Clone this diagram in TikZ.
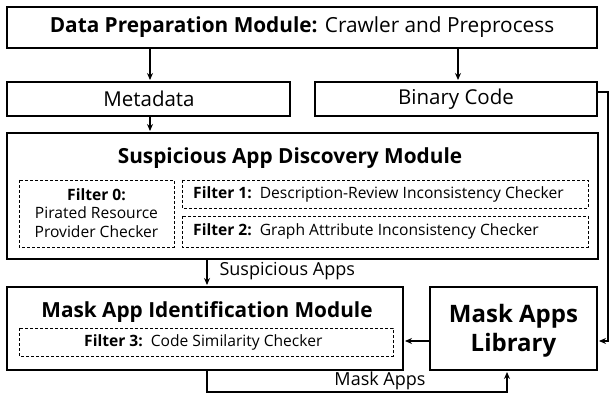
\documentclass[tikz,border=0pt]{standalone}
\usepackage{fontspec}
\setmainfont{Open Sans}
\usetikzlibrary{arrows.meta}
\begin{document}
\begin{tikzpicture}[x=1pt,y=-1pt,
  solidbox/.style={draw,line width=1.8pt},
  dashbox/.style={draw,dashed,line width=0.7pt,dash pattern=on 3pt off 2pt},
  conn/.style={line width=1.4pt,-{Stealth[length=7pt,width=6pt]}},
  big/.style={font=\fontsize{20.8}{23}\selectfont},
  mid/.style={font=\fontsize{20.5}{23}\selectfont},
  small/.style={font=\fontsize{15.6}{18.5}\selectfont},
  lbl/.style={font=\fontsize{18}{20}\selectfont},
  libf/.style={font=\fontsize{24}{29}\selectfont}]
\useasboundingbox (0,0) rectangle (611,398);
% boxes
\draw[solidbox] (7,7) rectangle (597,48);
\node[big] (dp) at (302,27.5) {\textbf{Data Preparation Module:} Crawler and Preprocess};
\draw[solidbox] (7,82) rectangle (290,116);
\node[mid] (meta) at (149,99) {Metadata};
\draw[solidbox] (315,82) rectangle (597,116);
\node[mid] (bin) at (456,99) {Binary Code};
\draw[solidbox] (7,133) rectangle (598,259);
\node[big] (sad) at (290,158) {\textbf{Suspicious App Discovery Module}};
\draw[dashbox] (19,180) rectangle (174,247);
\node[small,align=center] (f0) at (96.5,213) {\textbf{Filter 0:}\\Pirated Resource\\Provider Checker};
\draw[dashbox] (182,180) rectangle (588,208);
\node[small,anchor=west,inner sep=0pt] (f1) at (193,194) {\textbf{Filter 1:}\ \ Description-Review Inconsistency Checker};
\draw[dashbox] (182,216) rectangle (588,247);
\node[small,anchor=west,inner sep=0pt] (f2) at (193,231.5) {\textbf{Filter 2:}\ \ Graph Attribute Inconsistency Checker};
\draw[solidbox] (7,287) rectangle (403,370);
\node[big] (mai) at (207,312) {\textbf{Mask App Identification Module}};
\draw[dashbox] (19,328) rectangle (393,356);
\node[small,anchor=west,inner sep=0pt] (f3) at (84,342) {\textbf{Filter 3:}\ \ Code Similarity Checker};
\draw[solidbox] (430,287) rectangle (597,370);
\node[libf,align=center] (lib) at (513.5,331) {\textbf{Mask Apps}\\\textbf{Library}};
% connectors
\draw[conn] (150,49) -- (150,80);
\draw[conn] (458,49) -- (458,80);
\draw[conn] (150,117) -- (150,131);
\draw[conn] (207,260) -- (207,285);
\node[lbl,anchor=west] (sa) at (216,271) {Suspicious Apps};
\draw[conn] (429,341) -- (405,341);
\draw[conn] (598,92) -- (608,92) -- (608,341) -- (599,341);
\draw[conn] (207,371) -- (207,392) -- (507,392) -- (507,372);
\node[lbl] (ma) at (380,381) {Mask Apps};
\end{tikzpicture}
\end{document}
